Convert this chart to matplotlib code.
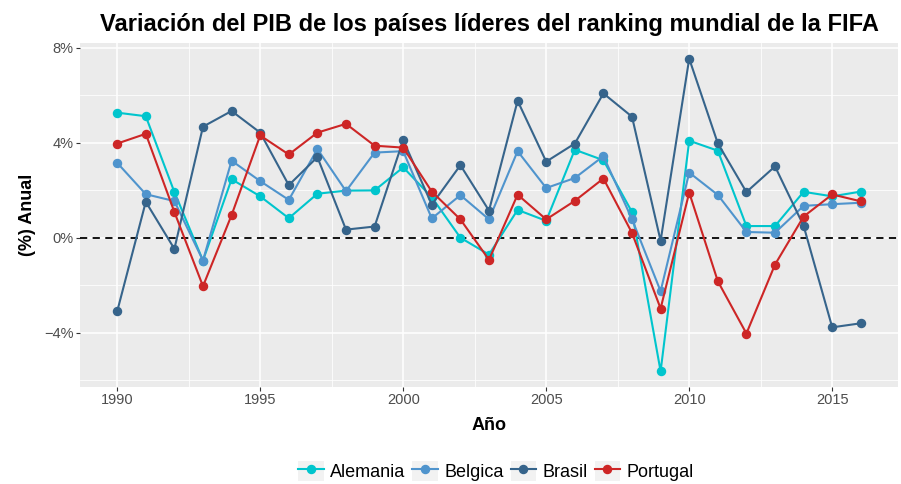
import numpy as np
import matplotlib
matplotlib.use('Agg')
import matplotlib.pyplot as plt
from matplotlib.legend_handler import HandlerLine2D
from matplotlib.patches import Rectangle
from matplotlib.ticker import FixedLocator, FuncFormatter

plt.rcParams['font.family'] = ['Liberation Sans', 'DejaVu Sans']

# Data: annual GDP growth (%)
years = list(range(1990, 2017))
alemania = [5.26, 5.11, 1.92, -0.96, 2.46, 1.74, 0.82, 1.85, 1.98, 1.99, 2.96, 1.70, 0.00, -0.71,
            1.17, 0.71, 3.70, 3.26, 1.08, -5.62, 4.08, 3.66, 0.49, 0.49, 1.93, 1.74, 1.94]
belgica = [3.15, 1.83, 1.54, -0.96, 3.24, 2.38, 1.59, 3.73, 1.96, 3.58, 3.64, 0.81, 1.79, 0.77,
           3.64, 2.09, 2.51, 3.43, 0.78, -2.25, 2.74, 1.80, 0.24, 0.21, 1.34, 1.41, 1.47]
brasil = [-3.10, 1.51, -0.47, 4.67, 5.33, 4.42, 2.21, 3.39, 0.34, 0.47, 4.11, 1.39, 3.05, 1.14,
          5.76, 3.20, 3.96, 6.07, 5.09, -0.13, 7.53, 3.97, 1.92, 3.00, 0.50, -3.77, -3.60]
portugal = [3.96, 4.37, 1.08, -2.04, 0.95, 4.30, 3.50, 4.42, 4.79, 3.87, 3.79, 1.94, 0.77, -0.93,
            1.81, 0.77, 1.55, 2.49, 0.20, -2.98, 1.90, -1.83, -4.03, -1.13, 0.89, 1.82, 1.53]

series = [('Alemania', alemania, '#00C5CD'),
          ('Belgica', belgica, '#4F94CD'),
          ('Brasil', brasil, '#36648B'),
          ('Portugal', portugal, '#CD2626')]


class KeyHandler(HandlerLine2D):
    # legend key with a grey box behind it, like ggplot
    def create_artists(self, legend, orig_handle, xdescent, ydescent, width, height, fontsize, trans):
        bg = Rectangle((-xdescent, -ydescent), width, height, fc='#F2F2F2', ec='none', transform=trans)
        arts = super().create_artists(legend, orig_handle, xdescent, ydescent, width, height, fontsize, trans)
        return [bg] + arts


fig = plt.figure(figsize=(9.01, 4.84), dpi=100)
ax = fig.add_axes([80 / 901, 1 - 387 / 484, 818 / 901, 344 / 484])
ax.set_facecolor('#EBEBEB')
for s in ax.spines.values():
    s.set_visible(False)

ax.set_xlim(1988.7, 2017.3)
ax.set_ylim(-6.28, 8.19)

ax.xaxis.set_major_locator(FixedLocator([1990, 1995, 2000, 2005, 2010, 2015]))
ax.xaxis.set_minor_locator(FixedLocator([1992.5, 1997.5, 2002.5, 2007.5, 2012.5]))
ax.yaxis.set_major_locator(FixedLocator([-4, 0, 4, 8]))
ax.yaxis.set_minor_locator(FixedLocator([-6, -2, 2, 6]))
ax.yaxis.set_major_formatter(FuncFormatter(lambda v, p: ('\u2212' if v < 0 else '') + '%d%%' % abs(v)))

ax.grid(which='major', color='white', lw=1.1)
ax.grid(which='minor', color='white', lw=0.55)
ax.set_axisbelow(True)
ax.tick_params(which='major', length=2.6, width=0.8, color='#333333', labelcolor='#4D4D4D',
               labelsize=10.5, pad=2)
ax.tick_params(which='minor', length=0)

ax.axhline(0, color='black', lw=1.3, ls=(0, (4, 3)), zorder=2)

handles = []
for name, vals, col in series:
    h, = ax.plot(years, vals, color=col, lw=1.5, marker='o', ms=5.8, label=name, zorder=3)
    handles.append(h)

ax.set_xlabel('Año', fontsize=13, fontweight='bold', labelpad=7)
ax.set_ylabel('(%) Anual', fontsize=13, fontweight='bold', labelpad=6)
ax.set_title('Variación del PIB de los países líderes del ranking mundial de la FIFA',
             fontsize=17, fontweight='bold', pad=9)

fig.legend(handles=handles, loc='center', bbox_to_anchor=(496 / 901, 1 - 471 / 484), ncol=4,
           frameon=False, fontsize=13, handlelength=1.4, handleheight=1.4,
           handletextpad=0.35, columnspacing=0.4, borderaxespad=0,
           handler_map={h: KeyHandler() for h in handles})

fig.savefig('out.png', dpi=100)
